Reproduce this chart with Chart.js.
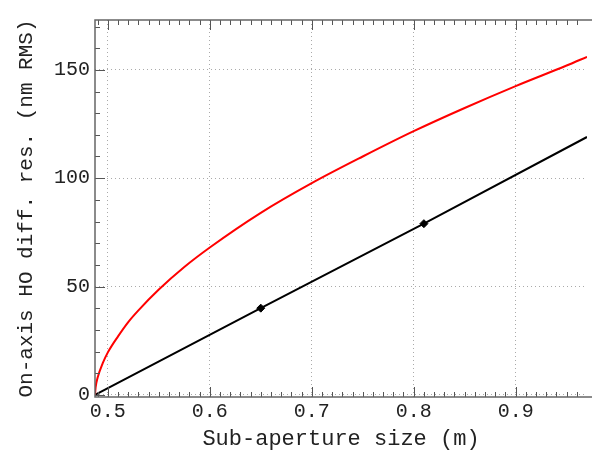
<!DOCTYPE html>
<html><head><meta charset="utf-8">
<script src="https://cdn.jsdelivr.net/npm/chart.js@4"></script>
<style>body{margin:0;background:#fff}#c{width:592px;height:456px}</style>
</head><body><div id="c"><canvas id="chart"></canvas></div>
<script>
const redX = [0.4874, 0.488, 0.49, 0.495, 0.5, 0.51, 0.52, 0.53, 0.55, 0.575, 0.6, 0.65, 0.7, 0.75, 0.8, 0.85, 0.9, 0.95, 0.97];
const redY = [0, 3.4, 8, 14.6, 19.6, 27, 33.6, 39, 48.6, 59, 68, 84, 97.7, 110, 121.7, 132.4, 142.5, 152, 156];
const blackX = [0.4874, 0.65, 0.81, 0.97];
const blackY = [0, 40, 79, 119];
const markerX = [0.65, 0.81];
const markerY = [40, 79];
const xTicks = [0.5, 0.6, 0.7, 0.8, 0.9];
const yTicks = [0, 50, 100, 150];

const pts = (xs, ys) => xs.map((x, i) => ({ x, y: ys[i] }));

const inwardTicks = {
    id: 'inwardTicks',
    afterDraw(chart) {
        const { ctx, chartArea: a, scales: { x, y } } = chart;
        ctx.save();
        ctx.strokeStyle = '#555';
        ctx.lineWidth = 1;
        ctx.beginPath();
        for (let v = 0.49; v <= 0.97; v += 0.01) {
            const px = Math.round(x.getPixelForValue(v)) + 0.5;
            const major = xTicks.some(t => Math.abs(t - v) < 1e-6);
            const len = major ? 10 : 5;
            ctx.moveTo(px, a.bottom); ctx.lineTo(px, a.bottom - len);
            ctx.moveTo(px, a.top); ctx.lineTo(px, a.top + len);
        }
        for (let v = 0; v <= 170; v += 10) {
            const py = Math.round(y.getPixelForValue(v)) + 0.5;
            const len = v % 50 === 0 ? 10 : 5;
            ctx.moveTo(a.left, py); ctx.lineTo(a.left + len, py);
        }
        ctx.stroke();
        ctx.strokeStyle = '#666';
        ctx.lineWidth = 1.5;
        ctx.beginPath();
        ctx.moveTo(a.right + 5, a.top); ctx.lineTo(a.left, a.top);
        ctx.lineTo(a.left, a.bottom); ctx.lineTo(a.right + 5, a.bottom);
        ctx.stroke();
        ctx.restore();
    }
};

const tickFont = { family: 'Liberation Mono', size: 20 };
new Chart(document.getElementById('chart'), {
    type: 'scatter',
    data: {
        datasets: [
            { data: pts(redX, redY), showLine: true, borderColor: '#ff0000', borderWidth: 2, pointRadius: 0, cubicInterpolationMode: 'monotone' },
            { data: pts(blackX, blackY), showLine: true, borderColor: '#000', borderWidth: 2, pointRadius: 0 },
            { data: pts(markerX, markerY), showLine: false, pointStyle: 'rectRot', pointRadius: 4, backgroundColor: '#000', borderColor: '#000' }
        ]
    },
    options: {
        animation: false,
        responsive: true,
        maintainAspectRatio: false,
        layout: { padding: { top: 20, right: 0, left: 0, bottom: 0 } },
        plugins: { legend: { display: false }, tooltip: { enabled: false } },
        scales: {
            x: {
                type: 'linear', min: 0.4874, max: 0.97,
                afterBuildTicks: s => { s.ticks = xTicks.map(v => ({ value: v })); },
                afterFit: s => { s.height = 59; },
                ticks: { color: '#222', font: tickFont, padding: 3, callback: v => v.toFixed(1) },
                grid: { color: '#aaa', lineWidth: 1, drawTicks: false },
                border: { display: false, dash: [1, 3] },
                title: { display: true, text: 'Sub-aperture size (m)', color: '#222', font: { family: 'Liberation Mono', size: 22 }, padding: { top: -4 } }
            },
            y: {
                min: -1, max: 173,
                afterBuildTicks: s => { s.ticks = yTicks.map(v => ({ value: v })); },
                afterFit: s => { s.width = 95; },
                ticks: { color: '#222', font: tickFont, padding: 5 },
                grid: { color: '#aaa', lineWidth: 1, drawTicks: false },
                border: { display: false, dash: [1, 3] },
                title: { display: true, text: 'On-axis HO diff. res. (nm RMS)', color: '#222', font: { family: 'Liberation Mono', size: 21 }, padding: { top: 14, bottom: 0 } }
            }
        }
    },
    plugins: [inwardTicks]
});
</script></body></html>
